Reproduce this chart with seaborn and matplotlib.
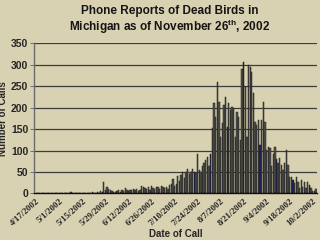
import numpy as np
import pandas as pd
import matplotlib
matplotlib.use("Agg")
import matplotlib.pyplot as plt
import seaborn as sns

# ---- data (daily phone reports, starting 4/17/2002) ----
calls_apr_may = [2, 0, 1, 0, 0, 1, 0, 0, 1, 0, 0, 0, 2, 0, 1, 0, 0, 0, 0, 1,
                 0, 3, 0, 0, 1, 0, 0, 0, 2, 0, 0, 1, 0, 2, 3, 0, 1, 4, 2, 5,
                 3]
calls_jun_jul = [27, 8, 14, 10, 9, 5, 4, 3, 5, 7, 4, 8, 6, 12, 9, 5, 8, 7, 10,
                 9, 11, 6, 8, 18, 14, 12, 10, 16, 9, 18, 13, 11, 15, 14, 10,
                 18, 16, 12, 15, 10, 20, 23, 33, 18, 23, 40, 30, 42, 50, 35,
                 50, 58, 45, 50, 58]
calls_aug = [50, 48, 91, 55, 50, 65, 70, 78, 85, 65,
             93, 152, 210, 178, 260, 213, 131, 164, 205, 225,
             155, 210, 194, 201, 198, 131, 190, 178, 124, 290,
             307, 248, 131, 299, 295, 283, 233, 167, 160, 171]
calls_sep_oct = [113, 171, 213, 167, 101, 108, 105, 63, 93, 108,
                 81, 70, 82, 66, 54, 70, 101, 66, 38, 38,
                 31, 24, 38, 27, 12, 31, 15, 27, 12, 27,
                 20, 12, 5, 5, 10]
calls = calls_apr_may + calls_jun_jul + calls_aug + calls_sep_oct
highlight_days = [96, 106, 116, 126, 136, 146, 156, 166]
tick_labels = ["4/17/2002", "5/1/2002", "5/15/2002", "5/29/2002", "6/12/2002",
               "6/26/2002", "7/10/2002", "7/24/2002", "8/7/2002", "8/21/2002",
               "9/4/2002", "9/18/2002", "10/2/2002"]
y_ticks = [0, 50, 100, 150, 200, 250, 300, 350]

days = list(range(len(calls)))
df = pd.DataFrame({
    "day": days,
    "calls": calls,
    "kind": ["hi" if d in highlight_days else "lo" for d in days],
})

bg = "#d8d2b2"
sns.set_theme(style="white")
plt.rcParams["font.family"] = ["Liberation Sans", "DejaVu Sans"]

fig = plt.figure(figsize=(3.2, 2.4), dpi=100, facecolor=bg)
ax = fig.add_axes([0.106, 0.194, 0.884, 0.626])
ax.set_facecolor(bg)

for y in y_ticks[1:]:
    ax.axhline(y, color="#3c3c3c", lw=0.9, zorder=0)

sns.barplot(data=df, x="day", y="calls", hue="kind",
            palette={"lo": "#55544e", "hi": "#18186e"},
            native_scale=True, dodge=False, width=0.8, legend=False,
            edgecolor="#1c1c1c", linewidth=0.35, ax=ax, zorder=2)

ax.set_xlim(-1.5, 170.5)
ax.set_ylim(0, 350)
ax.set_yticks(y_ticks)
ax.set_yticklabels([str(v) for v in y_ticks], fontsize=7.5, fontweight="bold")
ax.set_xticks(list(range(0, 14 * len(tick_labels), 14)))
ax.set_xticklabels(tick_labels, rotation=42, ha="right", rotation_mode="anchor",
                   fontsize=6.5, fontweight="bold",
                   family=["Liberation Serif", "DejaVu Serif"])
ax.tick_params(axis="x", length=2, width=0.6, pad=1, color="#202020")
ax.tick_params(axis="y", length=3, width=0.6, pad=1, color="#606060", left=True)

ax.set_xlabel("Date of Call", fontsize=7, fontweight="bold", labelpad=1)
ax.set_ylabel("Number of Calls", fontsize=7, fontweight="bold")
ax.yaxis.set_label_coords(-0.09, 0.5)

for s in ["top", "right"]:
    ax.spines[s].set_visible(False)
ax.spines["left"].set_color("#6a6a6a")
ax.spines["left"].set_linewidth(1.0)
ax.spines["bottom"].set_color("#101010")
ax.spines["bottom"].set_linewidth(1.0)

fig.text(0.53, 0.955, "Phone Reports of Dead Birds in", ha="center", va="center",
         fontsize=8.5, fontweight="bold", color="#151515")
fig.text(0.53, 0.887, r"Michigan as of November 26$^{\mathregular{th}}$, 2002",
         ha="center", va="center", fontsize=8.5, fontweight="bold", color="#151515")

fig.savefig("out.png", dpi=100, facecolor=bg)
